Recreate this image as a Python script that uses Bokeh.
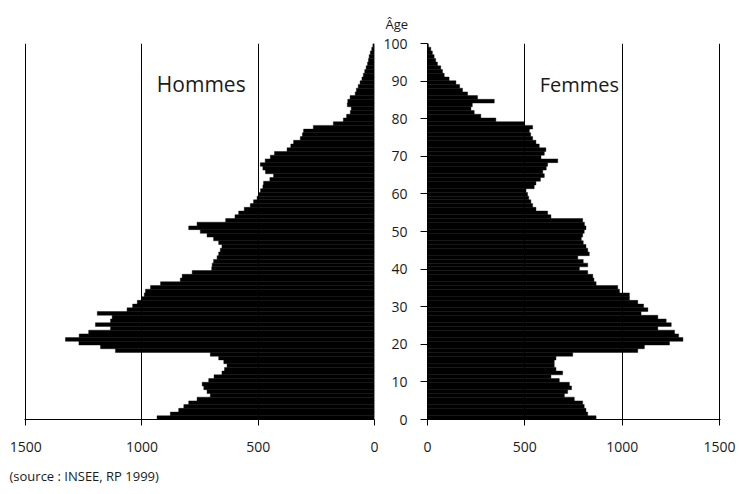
from bokeh.plotting import figure
from bokeh.models import Range1d, FixedTicker, Label, Title
from bokeh.layouts import row
from bokeh.embed import file_html
from bokeh.resources import INLINE

# ---- data ----
ages = list(range(0, 101))
hommes = [935, 878, 842, 820, 799, 763, 706, 720, 734, 741,
          713, 690, 656, 645, 634, 648, 670, 706, 1114, 1178,
          1271, 1329, 1270, 1229, 1135, 1200, 1135, 1128, 1192, 1064,
          1040, 1020, 1000, 990, 985, 963, 920, 835, 827, 784,
          700, 698, 692, 677, 670, 663, 656, 670, 692, 720,
          749, 799, 763, 640, 600, 584, 560, 534, 520, 505,
          498, 490, 480, 477, 450, 434, 469, 480, 491, 470,
          448, 430, 376, 360, 348, 319, 310, 305, 263, 177,
          134, 120, 104, 100, 117, 115, 105, 83, 78, 70,
          62, 54, 48, 42, 36, 30, 26, 23, 18, 12, 7]
femmes = [866, 823, 814, 805, 797, 754, 703, 720, 740, 729,
          677, 634, 694, 660, 651, 651, 660, 746, 1080, 1114,
          1243, 1312, 1290, 1269, 1183, 1252, 1226, 1183, 1097, 1132,
          1110, 1080, 1037, 1037, 986, 977, 866, 855, 849, 823,
          780, 823, 800, 772, 831, 823, 814, 800, 790, 797,
          805, 814, 806, 797, 634, 617, 557, 540, 531, 520,
          514, 506, 548, 557, 580, 600, 592, 610, 617, 669,
          583, 600, 608, 574, 557, 540, 530, 523, 540, 497,
          351, 274, 240, 223, 230, 343, 257, 206, 180, 165,
          146, 111, 86, 77, 68, 51, 42, 34, 25, 17, 5]
age_ticks = [0, 10, 20, 30, 40, 50, 60, 70, 80, 90, 100]
count_ticks = [0, 500, 1000, 1500]
age_max = 100
count_max = 1505
label_hommes = "Hommes"
label_femmes = "Femmes"
label_age = "Âge"
source_text = "(source : INSEE, RP 1999)"

FONT = "Open Sans"
TXT = "#1a1a1a"
n = len(ages)
bottoms = [a * age_max / n for a in ages]
tops = [(a + 1) * age_max / n for a in ages]

H = 494
common = dict(height=H, output_backend="svg", toolbar_location=None,
              min_border_top=43, min_border_bottom=75,
              y_range=Range1d(0, age_max))


def style(p):
    p.background_fill_color = "white"
    p.border_fill_color = "white"
    p.outline_line_color = None
    p.ygrid.visible = False
    p.xgrid.ticker = FixedTicker(ticks=count_ticks)
    p.xgrid.grid_line_color = "black"
    p.xgrid.grid_line_width = 1
    p.xgrid.grid_line_alpha = 1
    ax = p.xaxis[0]
    ax.ticker = FixedTicker(ticks=count_ticks)
    ax.axis_line_color = "black"
    ax.major_tick_line_color = "black"
    ax.major_tick_out = 6
    ax.major_tick_in = 0
    ax.minor_tick_line_color = None
    ax.major_label_text_font = FONT
    ax.major_label_text_font_size = "14px"
    ax.major_label_text_color = TXT
    ax.major_label_standoff = 16


# ---- left panel: Hommes ----
p1 = figure(width=378, x_range=Range1d(count_max, 0), y_axis_location=None,
            min_border_left=24, min_border_right=4, **common)
style(p1)
p1.quad(left=hommes, right=0, bottom=bottoms, top=tops,
        fill_color="black", line_color="black", line_width=0.4)
p1.add_layout(Label(x=745, y=89.1, text=label_hommes, text_font=FONT,
                    text_font_size="21px", text_align="center",
                    text_baseline="middle", text_color=TXT))
p1.add_layout(Title(text=source_text, align="left", offset=-15, standoff=20,
                    text_font=FONT, text_font_size="13px",
                    text_font_style="normal", text_color=TXT), "below")

# ---- right panel: Femmes ----
p2 = figure(width=361, x_range=Range1d(0, count_max),
            min_border_left=49, min_border_right=19, **common)
style(p2)
p2.quad(left=0, right=femmes, bottom=bottoms, top=tops,
        fill_color="black", line_color="black", line_width=0.4)
ya = p2.yaxis[0]
ya.ticker = FixedTicker(ticks=age_ticks)
ya.axis_line_color = "black"
ya.major_tick_line_color = "black"
ya.major_tick_out = 7
ya.major_tick_in = 0
ya.minor_tick_line_color = None
ya.major_label_text_font = FONT
ya.major_label_text_font_size = "14px"
ya.major_label_text_color = TXT
ya.major_label_standoff = 13
p2.add_layout(Label(x=780, y=89.1, text=label_femmes, text_font=FONT,
                    text_font_size="20px", text_align="center",
                    text_baseline="middle", text_color=TXT))
p2.add_layout(Title(text=label_age, align="left", offset=-42, standoff=22,
                    text_font=FONT, text_font_size="13px",
                    text_font_style="normal", text_color=TXT), "above")

layout = row(p1, p2, spacing=0)
open("out.html", "w").write(file_html(layout, INLINE))
